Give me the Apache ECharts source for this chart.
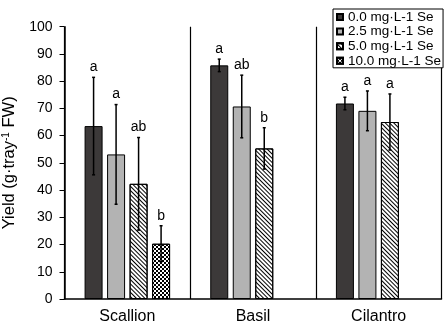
<!DOCTYPE html>
<html>
<head>
<meta charset="utf-8">
<script src="https://cdn.jsdelivr.net/npm/echarts@6/dist/echarts.min.js"></script>
<style>
  html, body { margin: 0; padding: 0; background: #fff; }
  #chart { width: 447px; height: 327px; }
</style>
</head>
<body>
<div id="chart"></div>
<script>
// crops
const categories = ['Scallion', 'Basil', 'Cilantro']
const seriesNames = ['0.0 mg·L-1 Se', '2.5 mg·L-1 Se', '5.0 mg·L-1 Se', '10.0 mg·L-1 Se']

// mean yield per treatment
const se0 = [63.5, 85.8, 71.8]
const se25 = [53.1, 70.7, 69.1]
const se5 = [42.3, 55.3, 65.0]
const se10 = [20.3, null, null]

// error bar (+/-)
const err0 = [17.9, 2.3, 2.3]
const err25 = [18.3, 11.5, 7.3]
const err5 = [17.0, 7.6, 10.3]
const err10 = [6.6, null, null]

// significance letters
const let0 = ['a', 'a', 'a']
const let25 = ['a', 'ab', 'a']
const let5 = ['ab', 'b', 'a']
const let10 = ['b', '', '']

const yTicks = [0, 10, 20, 30, 40, 50, 60, 70, 80, 90, 100]

const means = [se0, se25, se5, se10]
const errs = [err0, err25, err5, err10]
const letters = [let0, let25, let5, let10]

const BAR_W = 18
const BAR_STEP = 22.5
const FONT = 'Liberation Sans, Arial, sans-serif'

const hatch = {
    symbol: 'rect',
    symbolSize: 1,
    color: '#000',
    dashArrayX: [1, 0],
    dashArrayY: [1, 2],
    rotation: Math.PI / 4
}
const checker = {
    symbol: 'rect',
    symbolSize: 1,
    color: '#000',
    dashArrayX: [[1.5, 1.5], [0, 1.5, 1.5, 0]],
    dashArrayY: [1.5, 0],
    rotation: 0
}
const styles = [
    { color: '#3c3939', borderColor: '#000', borderWidth: 1 },
    { color: '#b3b3b3', borderColor: '#000', borderWidth: 1 },
    { color: '#fff', borderColor: '#000', borderWidth: 1, decal: hatch },
    { color: '#fff', borderColor: '#000', borderWidth: 1, decal: checker }
]

let myChart = echarts.init(document.getElementById('chart'))

let series = []
means.forEach((vals, s) => {
    series.push({
        name: seriesNames[s],
        type: 'bar',
        data: vals,
        barWidth: BAR_W,
        barGap: '25%',
        itemStyle: styles[s],
        emphasis: { disabled: true }
    })
})
means.forEach((vals, s) => {
    let d = []
    vals.forEach((v, i) => {
        if (v != null) {
            d.push([i, v - errs[s][i], v + errs[s][i], letters[s][i]])
        }
    })
    series.push({
        type: 'custom',
        data: d,
        silent: true,
        z: 5,
        renderItem: function (params, api) {
            const off = (s - 1.5) * BAR_STEP
            const lo = api.coord([api.value(0), api.value(1)])
            const hi = api.coord([api.value(0), api.value(2)])
            const x = lo[0] + off
            const cap = 1.5
            const st = { stroke: '#000', lineWidth: 1.5 }
            return {
                type: 'group',
                children: [
                    { type: 'line', shape: { x1: x, y1: lo[1], x2: x, y2: hi[1] }, style: st },
                    { type: 'line', shape: { x1: x - cap, y1: hi[1], x2: x + cap, y2: hi[1] }, style: st },
                    { type: 'line', shape: { x1: x - cap, y1: lo[1], x2: x + cap, y2: lo[1] }, style: st },
                    {
                        type: 'text',
                        x: x,
                        y: hi[1] - 3,
                        style: {
                            text: api.value(3),
                            fill: '#000',
                            font: '14px ' + FONT,
                            align: 'center',
                            verticalAlign: 'bottom'
                        }
                    }
                ]
            }
        }
    })
})

let option = {
    backgroundColor: '#FFFFFF',
    animation: false,
    textStyle: { fontFamily: FONT },
    legend: {
        data: seriesNames.map(n => ({ name: n, icon: 'rect' })),
        orient: 'vertical',
        left: 333,
        top: 9,
        padding: [1, 2, 0, 3],
        itemWidth: 6,
        itemHeight: 6,
        itemGap: 0.6,
        backgroundColor: '#fff',
        borderColor: '#000',
        borderWidth: 1,
        borderRadius: 0,
        selectedMode: false,
        textStyle: { fontSize: 13.5, color: '#000', lineHeight: 14, fontFamily: FONT }
    },
    grid: {
        left: 64.5,
        right: 5.5,
        top: 26.7,
        bottom: 28,
        containLabel: false,
        outerBoundsMode: 'none'
    },
    xAxis: {
        type: 'category',
        data: categories,
        boundaryGap: true,
        axisLine: { lineStyle: { color: '#000', width: 1.5 } },
        axisTick: { show: false },
        axisLabel: { color: '#000', fontSize: 16, margin: 10, fontFamily: FONT },
        splitLine: { show: true, interval: 0, lineStyle: { color: '#000', width: 1.2 } }
    },
    yAxis: {
        type: 'value',
        min: yTicks[0],
        max: yTicks[yTicks.length - 1],
        interval: 10,
        name: 'Yield (g·tray{sup|-1} FW)',
        nameLocation: 'middle',
        nameGap: 40,
        nameTextStyle: {
            color: '#000',
            fontSize: 16.5,
            fontFamily: FONT,
            rich: {
                sup: { fontSize: 10, verticalAlign: 'top', lineHeight: 16, color: '#000', fontFamily: FONT }
            }
        },
        axisLine: { show: true, lineStyle: { color: '#000', width: 1.5 } },
        axisTick: { show: true, inside: false, length: 5, lineStyle: { color: '#000', width: 1 } },
        axisLabel: { color: '#000', fontSize: 14, margin: 12, fontFamily: FONT },
        splitLine: { show: false }
    },
    series: series
}
myChart.setOption(option)
</script>
</body>
</html>
